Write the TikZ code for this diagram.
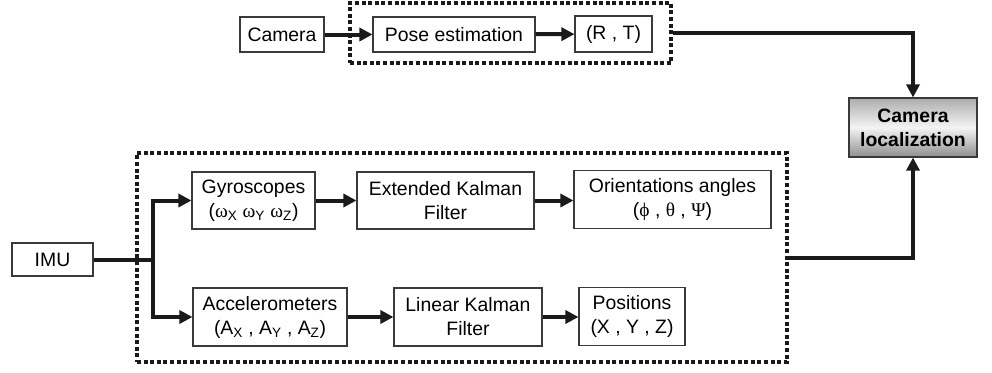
\documentclass[tikz,border=0pt]{standalone}
\usepackage{fontspec}
\setmainfont{Liberation Sans}
\newfontfamily\grk{Liberation Serif}
\usetikzlibrary{arrows.meta,calc}
\definecolor{ink}{HTML}{1A1A1A}
\definecolor{edge}{HTML}{3A3A3A}
\definecolor{shtop}{HTML}{ACACAC}
\definecolor{shmid}{HTML}{F4F4F4}
\definecolor{shbot}{HTML}{8E8E8E}
\tikzset{
  blk/.style={draw=edge, line width=1.1pt, fill=white, inner sep=0pt, align=center,
    font=\fontsize{19.4}{24}\selectfont},
  grp/.style={draw=ink, line width=3.6pt, dash pattern=on 4pt off 2.6pt, inner sep=0pt},
  flow/.style={draw=ink, line width=4pt, -{Triangle[length=13pt,width=13pt]}},
  wire/.style={draw=ink, line width=4pt},
  loc/.style={draw=edge, line width=1.1pt, inner sep=0pt, align=center,
    top color=shtop, bottom color=shbot, middle color=shmid,
    font=\fontsize{19.4}{24}\selectfont\bfseries},
}
\begin{document}
\begin{tikzpicture}[x=1pt,y=-1pt]
\useasboundingbox (0,0) rectangle (992,372);
% group boxes
\node[grp, minimum width=321pt, minimum height=60pt] (topgrp) at (510.5,33) {};
\node[grp, minimum width=650pt, minimum height=209pt] (botgrp) at (462,257.5) {};
% top row
\node[blk, minimum width=84pt, minimum height=35pt] (cam) at (282,34.5) {Camera};
\node[blk, minimum width=162pt, minimum height=35pt] (pose) at (454,34.5) {Pose estimation};
\node[blk, minimum width=77pt, minimum height=36pt] (rt) at (613.5,34) {(R , T)};
% result
\node[loc, minimum width=128pt, minimum height=59pt] (camloc) at (913,127.5) {Camera\\localization};
% IMU part
\node[blk, minimum width=81pt, minimum height=33pt] (imu) at (52.5,259.5) {IMU};
\node[blk, minimum width=123pt, minimum height=57pt] (gyro) at (253.5,200.5)
  {Gyroscopes\\({\grk ω}\textsubscript{X} {\grk ω}\textsubscript{Y} {\grk ω}\textsubscript{Z})};
\node[blk, minimum width=177pt, minimum height=57pt] (ekf) at (445.5,200.5) {Extended Kalman\\Filter};
\node[blk, minimum width=197pt, minimum height=58pt] (orient) at (672.5,199.5)
  {Orientations angles\\({\grk ϕ} , {\grk θ} , {\grk Ψ})};
\node[blk, minimum width=154pt, minimum height=58pt] (acc) at (270,317)
  {Accelerometers\\(A\textsubscript{X} , A\textsubscript{Y} , A\textsubscript{Z})};
\node[blk, minimum width=148pt, minimum height=58pt] (lkf) at (468,317) {Linear Kalman\\Filter};
\node[blk, minimum width=106pt, minimum height=58pt] (pos) at (632,316.5) {Positions\\(X , Y , Z)};
\coordinate (split) at (153,259.5);
% connectors
\draw[flow] (cam) -- (pose);
\draw[flow] (pose) -- (rt);
\draw[flow] (topgrp.east) -| (camloc.north);
\draw[flow] (botgrp.east) -| (camloc.south);
\draw[wire] (imu.east) -- (split);
\draw[flow] (split) |- (gyro.west);
\draw[flow] (split) |- (acc.west);
\draw[flow] (gyro) -- (ekf);
\draw[flow] (ekf.east) -- (orient.west |- ekf.east);
\draw[flow] (acc) -- (lkf);
\draw[flow] (lkf.east) -- (pos.west |- lkf.east);
\end{tikzpicture}
\end{document}
